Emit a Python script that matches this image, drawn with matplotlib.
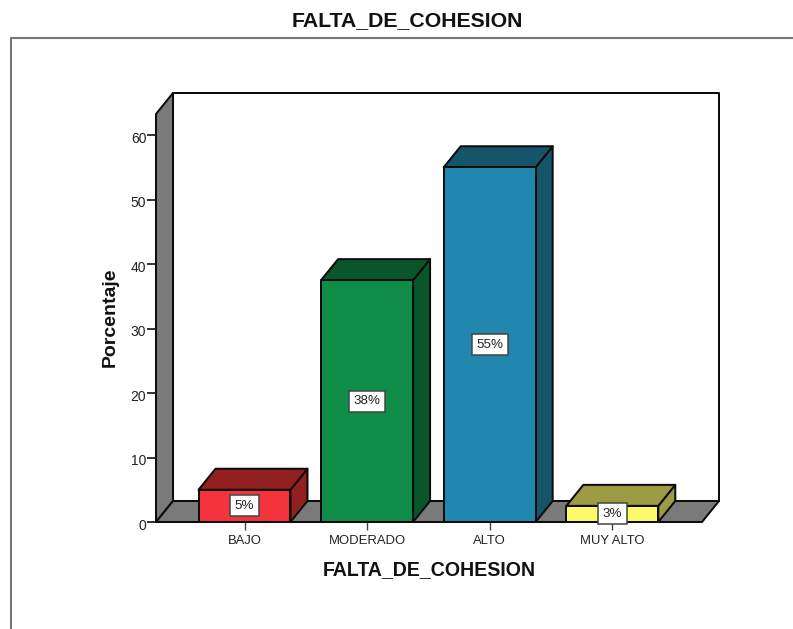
import matplotlib
matplotlib.use("Agg")
import matplotlib.pyplot as plt
from matplotlib.lines import Line2D
from matplotlib.patches import Polygon
from matplotlib.transforms import ScaledTranslation

plt.rcParams['font.family'] = ['Liberation Sans', 'DejaVu Sans']

categories = ['BAJO', 'MODERADO', 'ALTO', 'MUY ALTO']
values = [5.0, 37.5, 55.0, 2.5]
value_labels = ['5%', '38%', '55%', '3%']
front_colors = ['#F4333C', '#0F8C48', '#2287AE', '#FDF96A']
top_colors = ['#932021', '#0A562B', '#155469', '#9E9B45']
side_colors = ['#932021', '#0A562B', '#155469', '#9E9B45']
y_ticks = [0, 10, 20, 30, 40, 50, 60]

W, H = 793, 629
fig = plt.figure(figsize=(W / 100, H / 100), dpi=100, facecolor='white')

# front plane of the 3D box, in pixels
left, right, base, top = 156, 702, 522, 114
ax = fig.add_axes([left / W, 1 - base / H, (right - left) / W, (base - top) / H])
px_per_unit = 6.45
px_per_cat = 122.6
ax.set_xlim((left - 244.5) / px_per_cat, (right - 244.5) / px_per_cat)
ax.set_ylim(0, (base - top) / px_per_unit)
for s in ax.spines.values():
    s.set_visible(False)
ax.patch.set_visible(False)

DX = 17 / px_per_cat
DY = 21 / px_per_unit
x0, x1 = ax.get_xlim()
y0, y1 = ax.get_ylim()
edge = '#0C0C0C'
gray = '#7A7A7A'


def poly(pts, fc, z, lw=1.45):
    ax.add_patch(Polygon(pts, closed=True, facecolor=fc, edgecolor=edge,
                         linewidth=lw, joinstyle='round', clip_on=False, zorder=z))


# back wall, left wall, floor
poly([(x0 + DX, y0 + DY), (x1 + DX, y0 + DY), (x1 + DX, y1 + DY), (x0 + DX, y1 + DY)], 'white', 1)
poly([(x0, y0), (x0 + DX, y0 + DY), (x0 + DX, y1 + DY), (x0, y1)], gray, 1.1)
poly([(x0, y0), (x1, y0), (x1 + DX, y0 + DY), (x0 + DX, y0 + DY)], gray, 1.2)

# bars
bar_w = 0.75
for i, v in enumerate(values):
    a, b = i - bar_w / 2, i + bar_w / 2
    z = 2 + i * 0.1
    poly([(b, 0), (b + DX, DY), (b + DX, v + DY), (b, v)], side_colors[i], z)
    poly([(a, v), (b, v), (b + DX, v + DY), (a + DX, v + DY)], top_colors[i], z)
    poly([(a, 0), (b, 0), (b, v), (a, v)], front_colors[i], z + 0.01)
    ax.text(i, v / 2, value_labels[i], ha='center', va='center', fontsize=9.6,
            color='#222222', zorder=5,
            bbox=dict(boxstyle='square,pad=0.34', facecolor='white',
                      edgecolor='#444444', linewidth=1.1))

ax.set_xticks(range(len(categories)))
ax.set_xticklabels(categories, fontsize=9.4, color='#222222')
ax.set_yticks(y_ticks)
ax.set_yticklabels([str(t) for t in y_ticks], fontsize=10, color='#222222')
ax.tick_params(axis='y', length=6.5, width=1.3, color='#222222', pad=0.5)
ax.tick_params(axis='x', length=6, width=1.0, color='#444444', pad=3)
shift = ScaledTranslation(0, -1.5 / 72, fig.dpi_scale_trans)
for lab in ax.get_yticklabels():
    lab.set_transform(lab.get_transform() + shift)

fig.text(407.5 / W, 1 - 21 / H, 'FALTA_DE_COHESION', ha='center', va='center',
         fontsize=15.3, fontweight='bold', color='#111111')
fig.text(429 / W, 1 - 570 / H, 'FALTA_DE_COHESION', ha='center', va='center',
         fontsize=14.1, fontweight='bold', color='#111111')
fig.text(110 / W, 1 - 317 / H, 'Porcentaje', ha='center', va='center', rotation=90,
         fontsize=14, fontweight='bold', color='#111111')

# outer frame
fig.add_artist(Line2D([10.5 / W, 10.5 / W, 1], [0, 1 - 37.5 / H, 1 - 37.5 / H],
                      transform=fig.transFigure, color='#777777', linewidth=1.5))

fig.savefig('out.png', dpi=100)
